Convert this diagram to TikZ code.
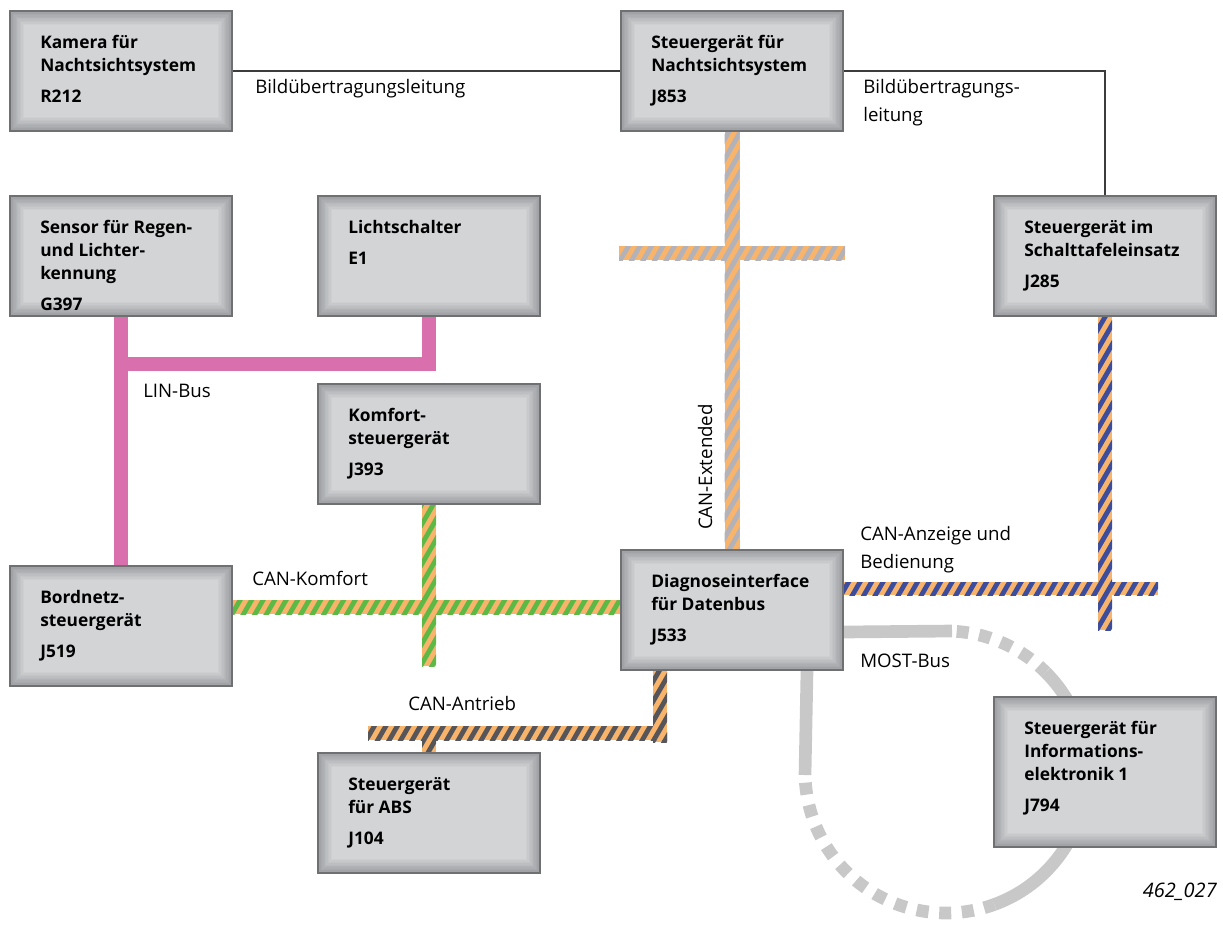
\documentclass[tikz,border=0pt]{standalone}
\usepackage{fontspec}
\setmainfont{Open Sans}
\usetikzlibrary{calc}
\usetikzlibrary{positioning}
\usetikzlibrary{backgrounds}

\definecolor{boxfill}{HTML}{D2D4D6}
\definecolor{boxrand}{HTML}{6E7072}
\definecolor{boxschatten}{HTML}{9C9EA1}
\definecolor{leitung}{HTML}{3C3C3C}
\definecolor{linpink}{HTML}{D970AD}
\definecolor{canorange}{HTML}{F9B46B}
\definecolor{cangrau}{HTML}{B2B2B8}
\definecolor{cangruen}{HTML}{5CB946}
\definecolor{candunkel}{HTML}{55555A}
\definecolor{canblau}{HTML}{3D4D9E}
\definecolor{mostgrau}{HTML}{C8C8C8}

\tikzset{
  geraet/.style={draw=boxrand, line width=1.5pt, fill=boxfill, anchor=north west,
    minimum width=166.5pt, minimum height=90pt, inner sep=0pt,
    path picture={
      \foreach \i [evaluate=\i as \breite using 2.1*\i, evaluate=\i as \anteil using 110-10*\i] in {10,9,...,1} {
        \draw[line width=\breite pt, boxschatten!\anteil!boxfill]
          (path picture bounding box.south west) rectangle (path picture bounding box.north east);
      }
    }},
  geraettext/.style={inner sep=0pt, align=left, font=\bfseries\fontsize{13}{17.25}\selectfont},
  buslabel/.style={inner sep=0pt, align=left, font=\fontsize{14}{21}\selectfont},
  bildleitung/.style={leitung, line width=1.5pt},
  linbus/.style={linpink, line width=10pt},
  canbus/.style={fill=canorange,
    path picture={
      \foreach \c in {0,11.5,...,1760} {
        \draw[#1, line width=3.6pt] (\c,0) -- ++(-534,925);
      }
    }},
  mostbus/.style={mostgrau, line width=9.5pt},
  mostpunkte/.style={dash pattern=on 9pt off 8pt, dash phase=9pt}
}

\begin{document}
\begin{tikzpicture}[x=0.75pt, y=-0.75pt]
\useasboundingbox (0,0) rectangle (1223,925);

% Steuergeraete
\node[geraet] (kamera) at (9,10) {};
\node[geraettext, below right=18.75pt and 23.25pt of kamera.north west] (kameratext) {Kamera für\\Nachtsichtsystem\\[6pt]R212};
\node[geraet] (nsg) at (620,10) {};
\node[geraettext, below right=18.75pt and 23.25pt of nsg.north west] (nsgtext) {Steuergerät für\\Nachtsichtsystem\\[6pt]J853};
\node[geraet] (regen) at (9,195) {};
\node[geraettext, below right=18.75pt and 23.25pt of regen.north west] (regentext) {Sensor für Regen-\\und Lichter-\\kennung\\[6pt]G397};
\node[geraet] (lichtsch) at (317,195) {};
\node[geraettext, below right=18.75pt and 23.25pt of lichtsch.north west] (lichtschtext) {Lichtschalter\\[6pt]E1};
\node[geraet] (kombi) at (993,195) {};
\node[geraettext, below right=18.75pt and 23.25pt of kombi.north west] (kombitext) {Steuergerät im\\Schalttafeleinsatz\\[6pt]J285};
\node[geraet] (komfort) at (317,383) {};
\node[geraettext, below right=18.75pt and 23.25pt of komfort.north west] (komforttext) {Komfort-\\steuergerät\\[6pt]J393};
\node[geraet] (bordnetz) at (9,565) {};
\node[geraettext, below right=18.75pt and 23.25pt of bordnetz.north west] (bordnetztext) {Bordnetz-\\steuergerät\\[6pt]J519};
\node[geraet] (diag) at (620,549) {};
\node[geraettext, below right=18.75pt and 23.25pt of diag.north west] (diagtext) {Diagnoseinterface\\für Datenbus\\[6pt]J533};
\node[geraet] (abs) at (317,752) {};
\node[geraettext, below right=18.75pt and 23.25pt of abs.north west] (abstext) {Steuergerät\\für ABS\\[6pt]J104};
\node[geraet, minimum height=112.5pt] (info) at (993,696) {};
\node[geraettext, below right=18.75pt and 23.25pt of info.north west] (infotext) {Steuergerät für\\Informations-\\elektronik 1\\[6pt]J794};

% Beschriftungen
\node[buslabel, anchor=base west] (bildlabel) at (255,93) {Bildübertragungsleitung};
\node[buslabel, anchor=north west] (bildlabelzwei) at (863,79) {Bildübertragungs-\\leitung};
\node[buslabel, anchor=base west] (linlabel) at (143,397) {LIN-Bus};
\node[buslabel, rotate=90] (extlabel) at (705,467) {CAN-Extended};
\node[buslabel, anchor=base west] (komfortlabel) at (252,585) {CAN-Komfort};
\node[buslabel, anchor=base west] (antrieblabel) at (408,710) {CAN-Antrieb};
\node[buslabel, anchor=north west] (anzeigelabel) at (860,526) {CAN-Anzeige und\\Bedienung};
\node[buslabel, anchor=base west] (mostlabel) at (860,667) {MOST-Bus};
\node[buslabel, anchor=base east, font=\itshape\fontsize{15}{18}\selectfont] (bildnummer) at (1217,897) {462\_027};

\begin{scope}[on background layer]
% Bilduebertragung
\draw[bildleitung] (kamera.east) -- (nsg.west);
\draw[bildleitung] (nsg.east) -| (kombi.north);

% LIN-Bus
\coordinate (linabzweig) at (121,364);
\draw[linbus] (regen.south) -- (bordnetz.north);
\draw[linbus] (lichtsch.south) |- (linabzweig);

% CAN-Extended
\path[canbus=cangrau] ($(nsg.south)+(-7.5,0)$) rectangle ($(diag.north)+(7.5,0)$);
\path[canbus=cangrau] (619,246) rectangle (845,260);

% CAN-Komfort
\path[canbus=cangruen] ($(bordnetz.east |- diag.west)+(0,-10)$) rectangle ($(diag.west)+(0,4)$);
\path[canbus=cangruen] ($(komfort.south)+(-7,0)$) rectangle ($(komfort.south)+(7,161)$);

% CAN-Antrieb
\path[canbus=candunkel] ($(diag.south west)+(33,0)$) rectangle ($(diag.south west)+(47,71)$);
\path[canbus=candunkel] (368,726) rectangle (667,740);
\path[canbus=candunkel] ($(abs.north)+(-7,0)$) rectangle ($(abs.north)+(7,-26)$);

% CAN-Anzeige und Bedienung
\path[canbus=canblau] ($(diag.east)+(0,-28)$) rectangle (1158,595);
\path[canbus=canblau] ($(kombi.south)+(-7,0)$) rectangle ($(kombi.south)+(7,313)$);

% MOST-Bus
\draw[mostbus] ($(diag.east)+(0,22)$) -- (952,631);
\draw[mostbus, mostpunkte] (946,631) arc[start angle=-90, end angle=-45, radius=141];
\draw[mostbus] (946,772) ++(-45:141) arc[start angle=-45, end angle=70, radius=141];
\draw[mostbus, mostpunkte] (805,772) arc[start angle=180, end angle=70, radius=141];
\draw[mostbus] (805,775) -- ($(diag.south east)+(-37,0)$);
\end{scope}
\end{tikzpicture}
\end{document}
